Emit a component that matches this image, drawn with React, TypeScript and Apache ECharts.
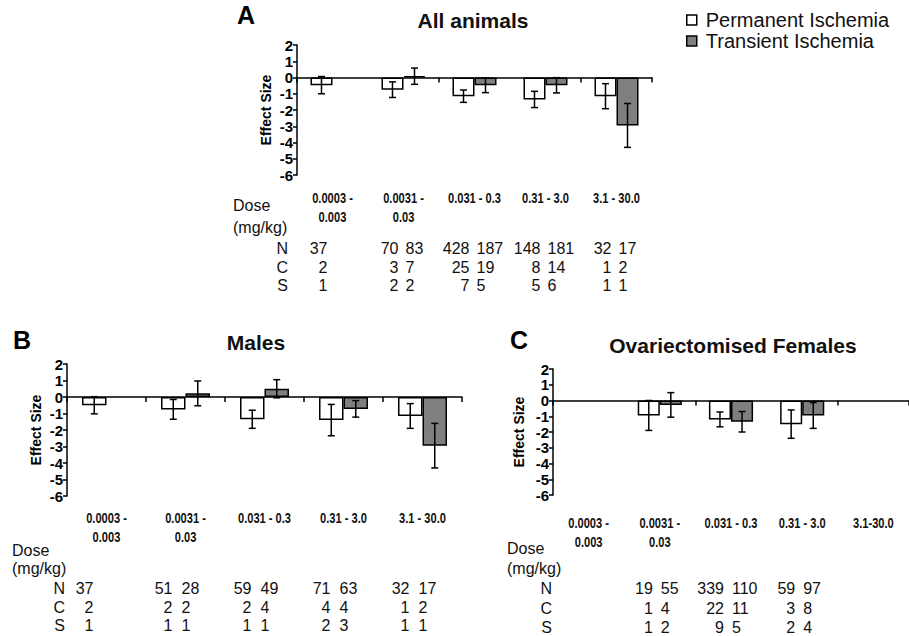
import React, { useEffect, useRef } from 'react';
import * as echarts from 'echarts';

// ---------- data ----------
const seriesNames = ['Permanent Ischemia', 'Transient Ischemia'];
const doseLabels = ['0.0003 -\n0.003', '0.0031 -\n0.03', '0.031 - 0.3', '0.31 - 3.0', '3.1 - 30.0'];
const doseLabelsC = ['0.0003 -\n0.003', '0.0031 -\n0.03', '0.031 - 0.3', '0.31 - 3.0', '3.1-30.0'];
const yTicks = { min: -6, max: 2, interval: 1 };

// Panel A: All animals
const permA = [-0.47, -0.75, -1.15, -1.35, -1.15];
const permAErr = [0.53, 0.48, 0.38, 0.5, 0.77];
const transA = [null, 0.08, -0.48, -0.48, -2.95];
const transAErr = [null, 0.5, 0.45, 0.47, 1.35];
const nPermA = [37, 70, 428, 148, 32];
const nTransA = [null, 83, 187, 181, 17];
const cPermA = [2, 3, 25, 8, 1];
const cTransA = [null, 7, 19, 14, 2];
const sPermA = [1, 2, 7, 5, 1];
const sTransA = [null, 2, 5, 6, 1];

// Panel B: Males
const permB = [-0.5, -0.75, -1.35, -1.4, -1.15];
const permBErr = [0.52, 0.6, 0.55, 0.95, 0.75];
const transB = [null, 0.22, 0.5, -0.72, -2.95];
const transBErr = [null, 0.75, 0.55, 0.5, 1.35];
const nPermB = [37, 51, 59, 71, 32];
const nTransB = [null, 28, 49, 63, 17];
const cPermB = [2, 2, 2, 4, 1];
const cTransB = [null, 2, 4, 4, 2];
const sPermB = [1, 1, 1, 2, 1];
const sTransB = [null, 1, 1, 3, 1];

// Panel C: Ovariectomised Females
const permC = [null, -0.95, -1.2, -1.5, null];
const permCErr = [null, 0.95, 0.47, 0.9, null];
const transC = [null, -0.28, -1.35, -0.95, null];
const transCErr = [null, 0.78, 0.65, 0.82, null];
const nPermC = [null, 19, 339, 59, null];
const nTransC = [null, 55, 110, 97, null];
const cPermC = [null, 1, 22, 3, null];
const cTransC = [null, 4, 11, 8, null];
const sPermC = [null, 1, 9, 2, null];
const sTransC = [null, 2, 5, 4, null];

const rowLabels = ['N', 'C', 'S'];

// ---------- layout / style ----------
const FONT = '"Liberation Sans", Arial, sans-serif';
const GAP = 0.38;
const GRAY = '#7f7f7f';

const panels = [
  {
    letter: 'A', title: 'All animals', labels: doseLabels,
    grid: { left: 297, top: 45, width: 355, height: 130 },
    nameGap: 24, doseLineY: 198, doseLineH: 19,
    letterPos: [237, 15], titlePos: [473, 20],
    doseX: 233, doseY: 205, mgY: 227, rowLabelX: 288, rowY: [248, 267, 285],
    permOff: -5, transOff: 2,
    perm: permA, permErr: permAErr, trans: transA, transErr: transAErr,
    rows: [[nPermA, nTransA], [cPermA, cTransA], [sPermA, sTransA]],
  },
  {
    letter: 'B', title: 'Males', labels: doseLabels,
    grid: { left: 67, top: 364, width: 395, height: 132 },
    nameGap: 24, doseLineY: 518, doseLineH: 19,
    letterPos: [13, 340], titlePos: [256, 342],
    doseX: 12, doseY: 550, mgY: 568, rowLabelX: 65, rowY: [588, 607, 625],
    permOff: -13, transOff: -4,
    perm: permB, permErr: permBErr, trans: transB, transErr: transBErr,
    rows: [[nPermB, nTransB], [cPermB, cTransB], [sPermB, sTransB]],
  },
  {
    letter: 'C', title: 'Ovariectomised Females', labels: doseLabelsC,
    grid: { left: 553, top: 369, width: 356, height: 126 },
    nameGap: 27, doseLineY: 523, doseLineH: 19,
    letterPos: [510, 340], titlePos: [733, 345],
    doseX: 507, doseY: 548, mgY: 568, rowLabelX: 552, rowY: [588, 608, 627],
    permOff: -7, transOff: 1,
    perm: permC, permErr: permCErr, trans: transC, transErr: transCErr,
    rows: [[nPermC, nTransC], [cPermC, cTransC], [sPermC, sTransC]],
  },
];

function errSeries(g: number, values: (number | null)[], errs: (number | null)[], side: number) {
  const data: number[][] = [];
  values.forEach((v, i) => {
    if (v != null && errs[i] != null) data.push([i, v - (errs[i] as number), v + (errs[i] as number)]);
  });
  return {
    type: 'custom',
    xAxisIndex: g,
    yAxisIndex: g,
    z: 10,
    silent: true,
    encode: { x: 0, y: [1, 2] },
    data,
    renderItem: (params: any, api: any) => {
      const cat = api.value(0);
      const lo = api.coord([cat, api.value(1)]);
      const hi = api.coord([cat, api.value(2)]);
      const catW = api.size([1, 0])[0];
      const bw = (catW * (1 - GAP)) / 2;
      const x = lo[0] + (side * bw) / 2;
      const cap = 3.5;
      const st = { stroke: '#000', lineWidth: 1.5 };
      return {
        type: 'group',
        children: [
          { type: 'line', shape: { x1: x, y1: hi[1], x2: x, y2: lo[1] }, style: st },
          { type: 'line', shape: { x1: x - cap, y1: hi[1], x2: x + cap, y2: hi[1] }, style: st },
          { type: 'line', shape: { x1: x - cap, y1: lo[1], x2: x + cap, y2: lo[1] }, style: st },
        ],
      };
    },
  };
}

function buildOption() {
  const grid: any[] = [];
  const xAxis: any[] = [];
  const yAxis: any[] = [];
  const series: any[] = [];
  const graphic: any[] = [];

  panels.forEach((p, g) => {
    grid.push({ ...p.grid, containLabel: false });
    xAxis.push({
      type: 'category', gridIndex: g, data: p.labels,
      axisLine: { show: true, onZero: true, lineStyle: { color: '#000', width: 1.5 } },
      axisTick: { show: true, length: 5, inside: false, lineStyle: { color: '#000', width: 1.5 } },
      axisLabel: { show: false },
      splitLine: { show: false },
    });
    yAxis.push({
      type: 'value', gridIndex: g, min: yTicks.min, max: yTicks.max, interval: yTicks.interval,
      name: 'Effect Size', nameLocation: 'middle', nameRotate: 90, nameGap: p.nameGap,
      nameTextStyle: { fontFamily: FONT, fontWeight: 'bold', fontSize: 14, color: '#000' },
      axisLine: { show: true, lineStyle: { color: '#000', width: 1.5 } },
      axisTick: { show: true, length: 4, inside: false, lineStyle: { color: '#000', width: 1.5 } },
      axisLabel: { color: '#000', fontFamily: FONT, fontWeight: 'bold', fontSize: 15, margin: 4, lineHeight: 15 },
      splitLine: { show: false },
    });
    series.push({
      type: 'bar', name: seriesNames[0], xAxisIndex: g, yAxisIndex: g,
      data: p.perm.map((v) => (v == null ? '-' : v)),
      barGap: '0%', barCategoryGap: GAP * 100 + '%',
      itemStyle: { color: '#ffffff', borderColor: '#000', borderWidth: 1.5 },
    });
    series.push({
      type: 'bar', name: seriesNames[1], xAxisIndex: g, yAxisIndex: g,
      data: p.trans.map((v) => (v == null ? '-' : v)),
      barGap: '0%', barCategoryGap: GAP * 100 + '%',
      itemStyle: { color: GRAY, borderColor: '#000', borderWidth: 1.5 },
    });
    series.push(errSeries(g, p.perm, p.permErr, -1));
    series.push(errSeries(g, p.trans, p.transErr, 1));

    graphic.push({
      type: 'text', x: p.letterPos[0], y: p.letterPos[1],
      style: { text: p.letter, fontFamily: FONT, fontWeight: 'bold', fontSize: 25, fill: '#000', align: 'left', verticalAlign: 'middle' },
    });
    graphic.push({
      type: 'text', x: p.titlePos[0], y: p.titlePos[1],
      style: { text: p.title, fontFamily: FONT, fontWeight: 'bold', fontSize: 21, fill: '#111', align: 'center', verticalAlign: 'middle' },
    });
    graphic.push({
      type: 'text', x: p.doseX, y: p.doseY,
      style: { text: 'Dose', fontFamily: FONT, fontSize: 16, fill: '#111', align: 'left', verticalAlign: 'middle' },
    });
    graphic.push({
      type: 'text', x: p.doseX, y: p.mgY,
      style: { text: '(mg/kg)', fontFamily: FONT, fontSize: 16, fill: '#111', align: 'left', verticalAlign: 'middle' },
    });
    rowLabels.forEach((lab, ri) => {
      graphic.push({
        type: 'text', x: p.rowLabelX, y: p.rowY[ri],
        style: { text: lab, fontFamily: FONT, fontSize: 16, fill: '#111', align: 'right', verticalAlign: 'middle' },
      });
    });
  });

  return {
    animation: false,
    backgroundColor: '#ffffff',
    grid, xAxis, yAxis, series, graphic,
    legend: {
      data: seriesNames,
      orient: 'vertical',
      left: 681, top: 5,
      icon: 'rect', itemWidth: 10, itemHeight: 10, itemGap: 1,
      itemStyle: { borderColor: '#000', borderWidth: 1.5 },
      textStyle: { fontFamily: FONT, fontSize: 20, color: '#111', lineHeight: 20, padding: [0, 0, 0, 4] },
      selectedMode: false,
    },
  };
}

export default function App() {
  const ref = useRef<HTMLDivElement>(null);
  useEffect(() => {
    if (!ref.current) return;
    const chart = echarts.init(ref.current, null, { renderer: 'svg' });
    const option: any = buildOption();
    chart.setOption(option);

    // dose labels and N / C / S table, placed with the category axes' own scale
    const extra: any[] = [];
    panels.forEach((p, g) => {
      const x0 = chart.convertToPixel({ xAxisIndex: g } as any, 0 as any) as unknown as number;
      const x1 = chart.convertToPixel({ xAxisIndex: g } as any, 1 as any) as unknown as number;
      const catW = x1 - x0;
      p.labels.forEach((lab, i) => {
        lab.split('\n').forEach((line, li) => {
          extra.push({
            type: 'text', x: x0 + i * catW, y: p.doseLineY + li * p.doseLineH, scaleX: 0.74,
            style: { text: line, fontFamily: FONT, fontWeight: 'bold', fontSize: 15, fill: '#111', align: 'center', verticalAlign: 'middle' },
          });
        });
      });
      p.rows.forEach((pair, ri) => {
        pair.forEach((vals, side) => {
          vals.forEach((v, i) => {
            if (v == null) return;
            const c = x0 + i * catW;
            extra.push({
              type: 'text', x: side === 0 ? c + p.permOff : c + p.transOff, y: p.rowY[ri],
              style: {
                text: String(v), fontFamily: FONT, fontSize: 16, fill: '#111',
                align: side === 0 ? 'right' : 'left', verticalAlign: 'middle',
              },
            });
          });
        });
      });
    });
    chart.setOption({ graphic: [...option.graphic, ...extra] });
    return () => chart.dispose();
  }, []);
  return <div ref={ref} style={{ position: 'fixed', left: 0, top: 0, width: 909, height: 636 }} />;
}
